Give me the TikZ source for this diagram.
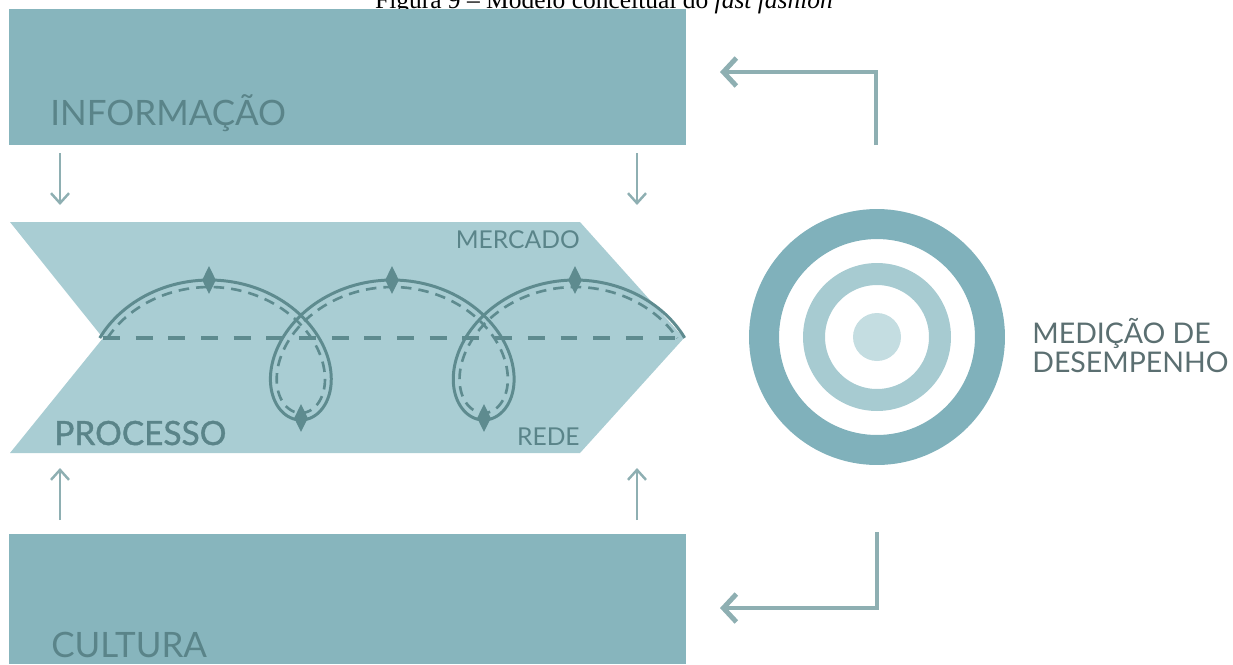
\documentclass[tikz,border=0pt]{standalone}
\usepackage{fontspec}
\setmainfont{Liberation Serif}
\newfontfamily\capfont{Lato}
\newfontfamily\capheavy[FakeBold=1.2]{Lato}
\usetikzlibrary{arrows.meta,shapes.geometric}
\definecolor{bandteal}{HTML}{87B5BD}
\definecolor{chevteal}{HTML}{A9CDD3}
\definecolor{curveteal}{HTML}{5E8B8F}
\definecolor{labteal}{HTML}{5A8489}
\definecolor{arrgray}{HTML}{8EAFB2}
\definecolor{ringdark}{HTML}{80B1BB}
\definecolor{ringmid}{HTML}{A7CBD1}
\definecolor{ringlight}{HTML}{C4DDE1}
\definecolor{measgray}{HTML}{5B6F71}
\tikzset{
  bandfill/.style={fill=bandteal, draw=none},
  chevfill/.style={fill=chevteal, draw=none},
  bandlbl/.style={font=\capfont\fontsize{19.9}{22}\selectfont, text=labteal, inner sep=0pt, anchor=base west},
  proclbl/.style={font=\capheavy\fontsize{19}{22}\selectfont, text=labteal, inner sep=0pt, anchor=base west},
  sublbl/.style={font=\capfont\fontsize{14}{16}\selectfont, text=labteal, inner sep=0pt, anchor=base east},
  measlbl/.style={font=\capfont\fontsize{16.2}{18}\selectfont, text=measgray, inner sep=0pt, anchor=base west},
  feed/.style={draw=arrgray, line width=2.8pt, -{Straight Barb[length=2.6mm,width=5.6mm]}},   % feedback arrow
  flow/.style={draw=arrgray, line width=1.4pt, -{Straight Barb[length=2mm,width=3.6mm]}},     % band -> process
  loopline/.style={draw=curveteal, line width=1.7pt},
  loopdash/.style={draw=curveteal, line width=1.5pt, dash pattern=on 6pt off 4pt},
  axisdash/.style={draw=curveteal, line width=2pt, dash pattern=on 9.6pt off 9pt},
  gem/.style={diamond, fill=curveteal, inner sep=0pt, minimum width=0.28cm, minimum height=0.56cm},
  ring/.style={circle, inner sep=0pt},
}
\begin{document}
\begin{tikzpicture}[x=0.02cm, y=-0.02cm]
  \useasboundingbox (0,0) rectangle (1233,664);
  % caption, partly hidden under the top band
  \node[font=\fontsize{14.5}{17}\selectfont, anchor=base, inner sep=0pt] (title) at (604,8)
    {Figura 9 -- Modelo conceitual do \textit{fast fashion}};
  % bands
  \fill[bandfill] (9,9) rectangle (686,145);
  \fill[bandfill] (9,534) rectangle (686,664);
  \node[bandlbl] (info) at (50,125) {INFORMAÇÃO};
  \node[bandlbl] (cult) at (51,657) {CULTURA};
  % process chevron
  \coordinate (notch) at (103,338);
  \coordinate (tip) at (684,338);
  \fill[chevfill] (10,222) -- (580,222) -- (tip) -- (580,453) -- (10,453) -- (notch) -- cycle;
  \node[proclbl] (proc) at (54,445) {PROCESSO};
  \node[sublbl] (merc) at (580,248) {MERCADO};
  \node[sublbl] (rede) at (580,445) {REDE};
  % loops
  \draw[axisdash] (notch) -- (tip);
  \draw[loopdash] plot[domain=1.76:17.09, samples=300] ({118+29.1*\x-63*sin(\x r)}, {350+63*cos(\x r)});
  \draw[loopline] plot[domain=1.7431:17.107, samples=300] ({118+29.1*\x-70*sin(\x r)}, {350+70*cos(\x r)});
  \foreach \k/\px/\py in {1/209/280, 2/392/280, 3/575/280, 4/301/418, 5/484/418}
    \node[gem] (g\k) at (\px,\py) {};
  % arrows between bands and process
  \foreach \k/\xx in {a/60, b/637} {
    \coordinate (in\k) at (\xx,153);
    \coordinate (out\k) at (\xx,205);
    \draw[flow] (in\k) -- (out\k);
    \coordinate (up\k) at (\xx,520);
    \coordinate (top\k) at (\xx,468);
    \draw[flow] (up\k) -- (top\k);
  }
  % performance target
  \node[ring, draw=ringdark, line width=0.6cm, minimum size=4.52cm] (outer) at (877,337) {};
  \node[ring, draw=ringmid, line width=0.44cm, minimum size=2.52cm] (middle) at (outer) {};
  \node[ring, fill=ringlight, minimum size=0.96cm] (bull) at (outer) {};
  \node[measlbl] (med1) at (1032,343) {MEDIÇÃO DE};
  \node[measlbl] (med2) at (1032,372) {DESEMPENHO};
  % feedback
  \coordinate (fbtop) at (876,145);
  \coordinate (fbinfo) at (720,72);
  \draw[feed] (fbtop) |- (fbinfo);
  \coordinate (fbbot) at (877,532);
  \coordinate (fbcult) at (720,608);
  \draw[feed] (fbbot) |- (fbcult);
\end{tikzpicture}
\end{document}
